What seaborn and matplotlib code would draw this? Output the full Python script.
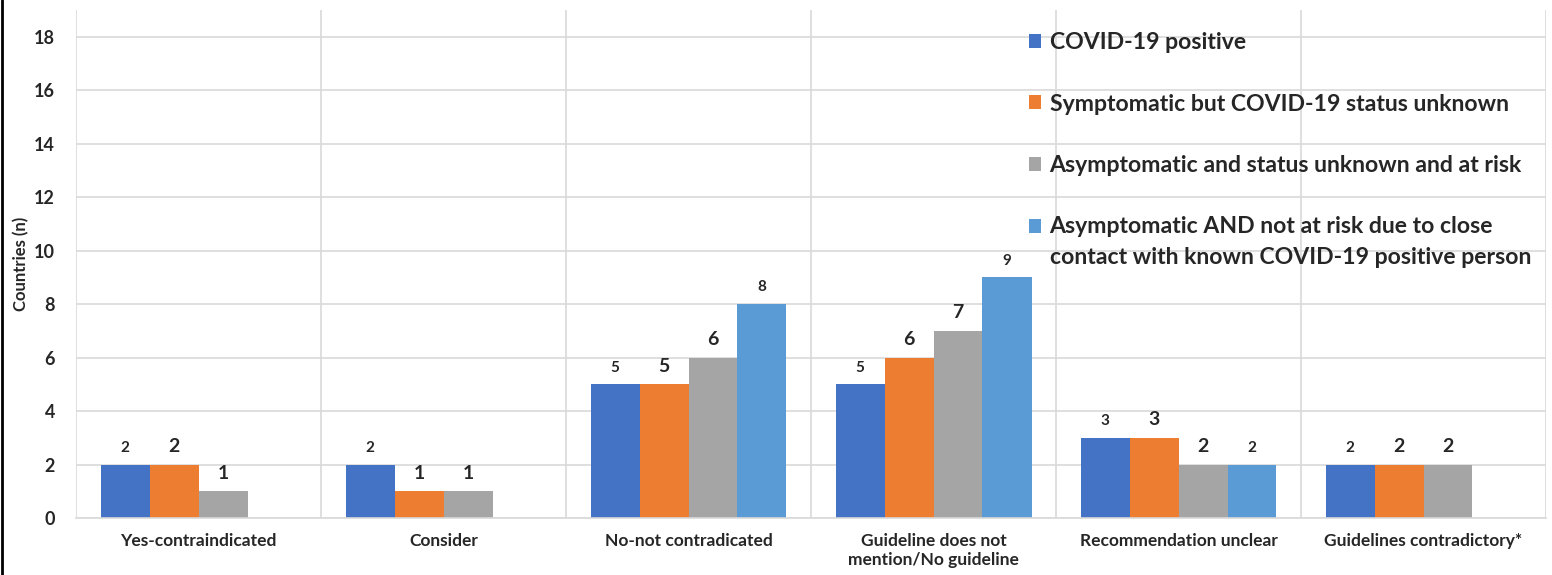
import numpy as np
import pandas as pd
import matplotlib
matplotlib.use("Agg")
import matplotlib.pyplot as plt
from matplotlib.lines import Line2D
from matplotlib.patches import Rectangle
from matplotlib.legend_handler import HandlerPatch
import seaborn as sns

categories = ["Yes-contraindicated", "Consider", "No-not contradicated",
              "Guideline does not\nmention/No guideline",
              "Recommendation unclear", "Guidelines contradictory*"]
series_names = ["COVID-19 positive",
                "Symptomatic but COVID-19 status unknown",
                "Asymptomatic and status unknown and at risk",
                "Asymptomatic AND not at risk due to close\ncontact with known COVID-19 positive person"]
covid_positive = [2, 2, 5, 5, 3, 2]
symptomatic_unknown = [2, 1, 5, 6, 3, 2]
asymptomatic_at_risk = [1, 1, 6, 7, 2, 2]
asymptomatic_not_at_risk = [np.nan, np.nan, 8, 9, 2, np.nan]
colors = ["#4472C4", "#ED7D31", "#A5A5A5", "#5B9BD5"]

rows = []
for name, vals in zip(series_names, [covid_positive, symptomatic_unknown,
                                     asymptomatic_at_risk, asymptomatic_not_at_risk]):
    for cat, v in zip(categories, vals):
        if not np.isnan(v):
            rows.append({"category": cat, "series": name, "count": v})
df = pd.DataFrame(rows)

sns.set_style("white")
plt.rcParams["font.family"] = ["Lato", "DejaVu Sans"]
plt.rcParams["font.weight"] = "bold"

fig = plt.figure(figsize=(15.52, 5.75), dpi=100)
ax = fig.add_axes([76 / 1552, 57 / 575, 1470 / 1552, 508 / 575])

sns.barplot(data=df, x="category", y="count", hue="series", order=categories,
            hue_order=series_names, palette=colors, errorbar=None, width=0.8,
            saturation=1, ax=ax, linewidth=0)

label_sizes = [11, 14, 14, 11]
for cont, fs in zip(ax.containers, label_sizes):
    ax.bar_label(cont, fmt="%d", padding=7, fontsize=fs, fontweight="bold")

ax.set_ylim(0, 19)
ax.set_yticks(range(0, 19, 2))
ax.set_xlim(-0.5, len(categories) - 0.5)
ax.set_xticks(np.arange(-0.5, len(categories), 1), minor=True)
ax.grid(axis="y", which="major", color="#D9D9D9", linewidth=1.2)
ax.grid(axis="x", which="minor", color="#D9D9D9", linewidth=1.2)
ax.grid(axis="x", which="major", visible=False)
ax.set_axisbelow(True)
for s in ["top", "right", "left"]:
    ax.spines[s].set_visible(False)
ax.spines["bottom"].set_color("#D9D9D9")
ax.spines["bottom"].set_linewidth(1.2)
ax.tick_params(axis="both", which="both", length=0)
ax.tick_params(axis="x", pad=11, labelsize=12.5)
ax.tick_params(axis="y", pad=15, labelsize=13)
for lab in ax.get_xticklabels() + ax.get_yticklabels():
    lab.set_fontweight("bold")
ax.set_xlabel("")
ax.set_ylabel("Countries (n)", fontsize=12, fontweight="bold", labelpad=3.5)


# square marker lined up with the first line of a two-line label
def raised_square(legend, orig_handle, xdescent, ydescent, width, height, fontsize):
    return Rectangle((-xdescent, -ydescent + 12), width, height)


handles, labels = ax.get_legend_handles_labels()
leg = ax.legend(handles, labels, loc="upper left",
                bbox_to_anchor=(1008 / 1552, 0.98),
                bbox_transform=fig.transFigure, frameon=False,
                prop={"weight": "bold", "size": 16.6}, labelspacing=1.75,
                handlelength=0.55, handleheight=0.55, handletextpad=0.35,
                handler_map={handles[3]: HandlerPatch(patch_func=raised_square)})
for t in leg.get_texts():
    t.set_linespacing(1.6)

fig.add_artist(Line2D([1.5 / 1552, 1.5 / 1552], [0, 1], transform=fig.transFigure,
                      color="black", linewidth=2))

fig.savefig("out.png", dpi=100)
